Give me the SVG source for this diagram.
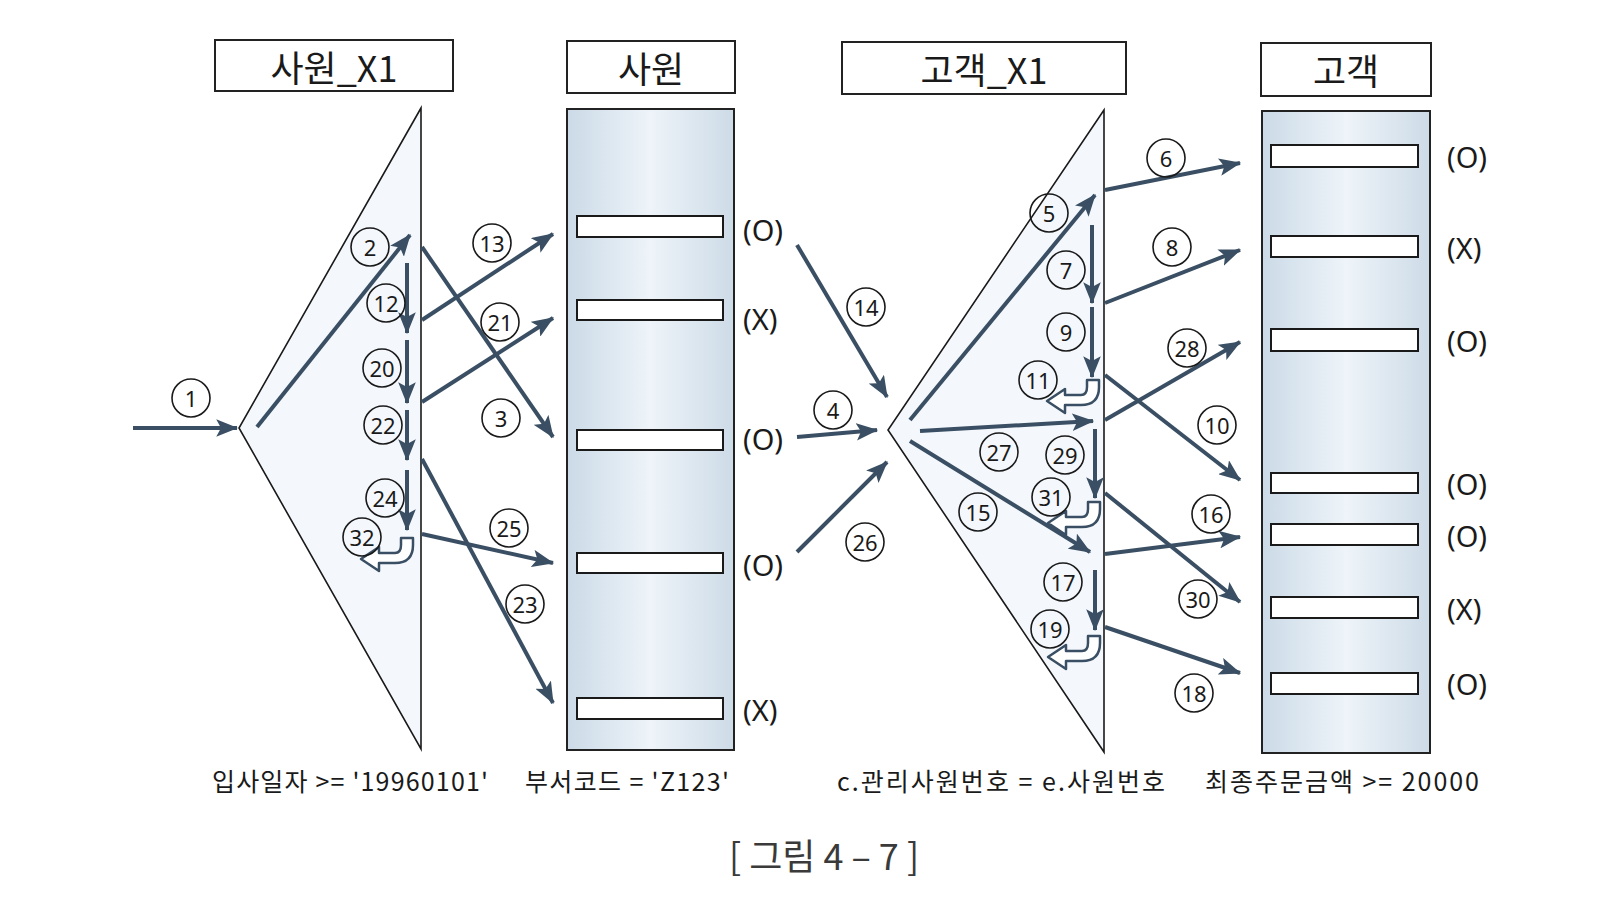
<svg xmlns="http://www.w3.org/2000/svg" width="1620" height="898" viewBox="0 0 1620 898">
<style>
.hdr{fill:#fff;stroke:#222;stroke-width:2}
.ht{font-family:"Noto Sans CJK KR","Noto Sans",sans-serif;font-size:36px;fill:#1a1a1a;text-anchor:middle;dominant-baseline:central}
.tri{fill:#f4f8fc;stroke:#1a1a1a;stroke-width:1.6}
.tbl{fill:url(#tg);stroke:#222;stroke-width:2}
.row{fill:#fff;stroke:#1a1a1a;stroke-width:2}
.ox{font-family:"Noto Sans","Noto Sans CJK KR",sans-serif;font-size:29px;fill:#1a1a1a;dominant-baseline:central}
.ar{stroke:#3a4f63;stroke-width:4;fill:none;marker-end:url(#ah)}
.hook{fill:#fff;stroke:#3a4f63;stroke-width:2.5;stroke-linejoin:round}
.lc{fill:none;stroke:#1a1a1a;stroke-width:1.6}
.lt{font-family:"Noto Sans","Noto Sans CJK KR",sans-serif;font-size:22px;fill:#1a1a1a;text-anchor:middle;dominant-baseline:central}
.bt{font-family:"Noto Sans CJK KR","Noto Sans",sans-serif;font-size:25px;fill:#1a1a1a}
.cap{font-family:"Noto Sans CJK KR","Noto Sans",sans-serif;font-size:36px;fill:#3a3a3a;text-anchor:middle}
</style>
<defs>
<linearGradient id="tg" x1="0" y1="0" x2="1" y2="0">
<stop offset="0" stop-color="#cbdae7"/>
<stop offset="0.5" stop-color="#eef4f9"/>
<stop offset="1" stop-color="#cddbe7"/>
</linearGradient>
<marker id="ah" markerUnits="strokeWidth" markerWidth="5.5" markerHeight="4.4" refX="5.2" refY="2.2" orient="auto">
<path d="M0,0 L5.5,2.2 L0,4.4 L1.2,2.2 Z" fill="#3a4f63"/>
</marker>
<path id="hk" d="M-12,0 L0,0 L0,7 Q0,25 -18,25 L-34,25 L-34,33 L-52,21 L-34,9 L-34,15 L-18,15 Q-12,15 -12,7 Z"/>
</defs>
<rect width="1620" height="898" fill="#fff"/>

<g id="hdr-emp-x1"><rect class="hdr" x="215" y="40" width="238" height="51"/><text class="ht" x="334" y="66">사원_X1</text></g>
<g id="hdr-emp"><rect class="hdr" x="567" y="41" width="168" height="52"/><text class="ht" x="651" y="67">사원</text></g>
<g id="hdr-cust-x1"><rect class="hdr" x="842" y="42" width="284" height="52"/><text class="ht" x="984" y="68">고객_X1</text></g>
<g id="hdr-cust"><rect class="hdr" x="1261" y="43" width="170" height="53"/><text class="ht" x="1346" y="69">고객</text></g>

<g id="idx-emp-x1"><polygon class="tri" points="421,108 239,428 421,749"/></g>
<g id="tbl-emp">
<rect class="tbl" x="567" y="109" width="167" height="641"/>
<rect class="row" x="577" y="216" width="146" height="21"/>
<rect class="row" x="577" y="300" width="146" height="20"/>
<rect class="row" x="577" y="430" width="146" height="20"/>
<rect class="row" x="577" y="553" width="146" height="20"/>
<rect class="row" x="577" y="698" width="146" height="21"/>
<text class="ox" x="743" y="229">(O)</text>
<text class="ox" x="743" y="318">(X)</text>
<text class="ox" x="743" y="438">(O)</text>
<text class="ox" x="743" y="564">(O)</text>
<text class="ox" x="743" y="709">(X)</text>
</g>
<g id="idx-cust-x1"><polygon class="tri" points="1104,110 888,430 1104,752"/></g>
<g id="tbl-cust">
<rect class="tbl" x="1262" y="111" width="168" height="642"/>
<rect class="row" x="1271" y="145" width="147" height="22"/>
<rect class="row" x="1271" y="236" width="147" height="21"/>
<rect class="row" x="1271" y="329" width="147" height="22"/>
<rect class="row" x="1271" y="473" width="147" height="20"/>
<rect class="row" x="1271" y="524" width="147" height="21"/>
<rect class="row" x="1271" y="597" width="147" height="21"/>
<rect class="row" x="1271" y="673" width="147" height="21"/>
<text class="ox" x="1447" y="156">(O)</text>
<text class="ox" x="1447" y="247">(X)</text>
<text class="ox" x="1447" y="340">(O)</text>
<text class="ox" x="1447" y="483">(O)</text>
<text class="ox" x="1447" y="535">(O)</text>
<text class="ox" x="1447" y="608">(X)</text>
<text class="ox" x="1447" y="683">(O)</text>
</g>

<g id="connectors">
<line class="ar" x1="133" y1="428" x2="237" y2="428"/>
<line class="ar" x1="257" y1="427" x2="410" y2="235"/>
<line class="ar" x1="407" y1="263" x2="407" y2="333"/>
<line class="ar" x1="407" y1="340" x2="407" y2="403"/>
<line class="ar" x1="407" y1="410" x2="407" y2="460"/>
<line class="ar" x1="407" y1="470" x2="407" y2="530"/>
<line class="ar" x1="422" y1="320" x2="553" y2="234"/>
<line class="ar" x1="422" y1="247" x2="553" y2="437"/>
<line class="ar" x1="422" y1="402" x2="553" y2="318"/>
<line class="ar" x1="422" y1="534" x2="553" y2="563"/>
<line class="ar" x1="422" y1="459" x2="553" y2="703"/>
<line class="ar" x1="797" y1="245" x2="887" y2="397"/>
<line class="ar" x1="797" y1="437" x2="877" y2="430"/>
<line class="ar" x1="797" y1="552" x2="887" y2="462"/>
<line class="ar" x1="910" y1="420" x2="1095" y2="195"/>
<line class="ar" x1="1105" y1="190" x2="1240" y2="163"/>
<line class="ar" x1="1092" y1="225" x2="1092" y2="303"/>
<line class="ar" x1="1105" y1="303" x2="1240" y2="250"/>
<line class="ar" x1="1092" y1="307" x2="1092" y2="377"/>
<line class="ar" x1="1105" y1="420" x2="1240" y2="342"/>
<line class="ar" x1="1105" y1="375" x2="1240" y2="480"/>
<line class="ar" x1="920" y1="431" x2="1093" y2="421"/>
<line class="ar" x1="910" y1="441" x2="1090" y2="552"/>
<line class="ar" x1="1095" y1="429" x2="1095" y2="498"/>
<line class="ar" x1="1105" y1="493" x2="1240" y2="602"/>
<line class="ar" x1="1105" y1="554" x2="1240" y2="537"/>
<line class="ar" x1="1095" y1="570" x2="1095" y2="630"/>
<line class="ar" x1="1105" y1="627" x2="1240" y2="673"/>
<use href="#hk" class="hook" transform="translate(413,538)"/>
<use href="#hk" class="hook" transform="translate(1099,380)"/>
<use href="#hk" class="hook" transform="translate(1100,502)"/>
<use href="#hk" class="hook" transform="translate(1100,636)"/>
</g>

<g id="step-labels">
<circle class="lc" cx="191" cy="398" r="19"/><text class="lt" x="191" y="398">1</text>
<circle class="lc" cx="370" cy="247" r="19"/><text class="lt" x="370" y="247">2</text>
<circle class="lc" cx="386" cy="303" r="19"/><text class="lt" x="386" y="303">12</text>
<circle class="lc" cx="382" cy="368" r="19"/><text class="lt" x="382" y="368">20</text>
<circle class="lc" cx="383" cy="425" r="19"/><text class="lt" x="383" y="425">22</text>
<circle class="lc" cx="385" cy="498" r="19"/><text class="lt" x="385" y="498">24</text>
<circle class="lc" cx="362" cy="537" r="19"/><text class="lt" x="362" y="537">32</text>
<circle class="lc" cx="492" cy="243" r="19"/><text class="lt" x="492" y="243">13</text>
<circle class="lc" cx="500" cy="322" r="19"/><text class="lt" x="500" y="322">21</text>
<circle class="lc" cx="501" cy="418" r="19"/><text class="lt" x="501" y="418">3</text>
<circle class="lc" cx="509" cy="528" r="19"/><text class="lt" x="509" y="528">25</text>
<circle class="lc" cx="525" cy="604" r="19"/><text class="lt" x="525" y="604">23</text>
<circle class="lc" cx="866" cy="307" r="19"/><text class="lt" x="866" y="307">14</text>
<circle class="lc" cx="833" cy="410" r="19"/><text class="lt" x="833" y="410">4</text>
<circle class="lc" cx="865" cy="542" r="19"/><text class="lt" x="865" y="542">26</text>
<circle class="lc" cx="1049" cy="213" r="19"/><text class="lt" x="1049" y="213">5</text>
<circle class="lc" cx="1166" cy="158" r="19"/><text class="lt" x="1166" y="158">6</text>
<circle class="lc" cx="1066" cy="270" r="19"/><text class="lt" x="1066" y="270">7</text>
<circle class="lc" cx="1172" cy="247" r="19"/><text class="lt" x="1172" y="247">8</text>
<circle class="lc" cx="1066" cy="332" r="19"/><text class="lt" x="1066" y="332">9</text>
<circle class="lc" cx="1038" cy="380" r="19"/><text class="lt" x="1038" y="380">11</text>
<circle class="lc" cx="1187" cy="348" r="19"/><text class="lt" x="1187" y="348">28</text>
<circle class="lc" cx="1217" cy="425" r="19"/><text class="lt" x="1217" y="425">10</text>
<circle class="lc" cx="999" cy="452" r="19"/><text class="lt" x="999" y="452">27</text>
<circle class="lc" cx="1065" cy="455" r="19"/><text class="lt" x="1065" y="455">29</text>
<circle class="lc" cx="1051" cy="497" r="19"/><text class="lt" x="1051" y="497">31</text>
<circle class="lc" cx="978" cy="512" r="19"/><text class="lt" x="978" y="512">15</text>
<circle class="lc" cx="1211" cy="514" r="19"/><text class="lt" x="1211" y="514">16</text>
<circle class="lc" cx="1198" cy="599" r="19"/><text class="lt" x="1198" y="599">30</text>
<circle class="lc" cx="1063" cy="582" r="19"/><text class="lt" x="1063" y="582">17</text>
<circle class="lc" cx="1050" cy="629" r="19"/><text class="lt" x="1050" y="629">19</text>
<circle class="lc" cx="1194" cy="693" r="19"/><text class="lt" x="1194" y="693">18</text>
</g>

<g id="conditions">
<text class="bt" x="212" y="791" textLength="276" lengthAdjust="spacing">입사일자 &gt;= '19960101'</text>
<text class="bt" x="525" y="791" textLength="204" lengthAdjust="spacing">부서코드 = 'Z123'</text>
<text class="bt" x="837" y="791" textLength="328" lengthAdjust="spacing">c.관리사원번호 = e.사원번호</text>
<text class="bt" x="1205" y="791" textLength="274" lengthAdjust="spacing">최종주문금액 &gt;= 20000</text>
</g>
<text class="cap" x="824" y="870">[ 그림 4 – 7 ]</text>
</svg>
